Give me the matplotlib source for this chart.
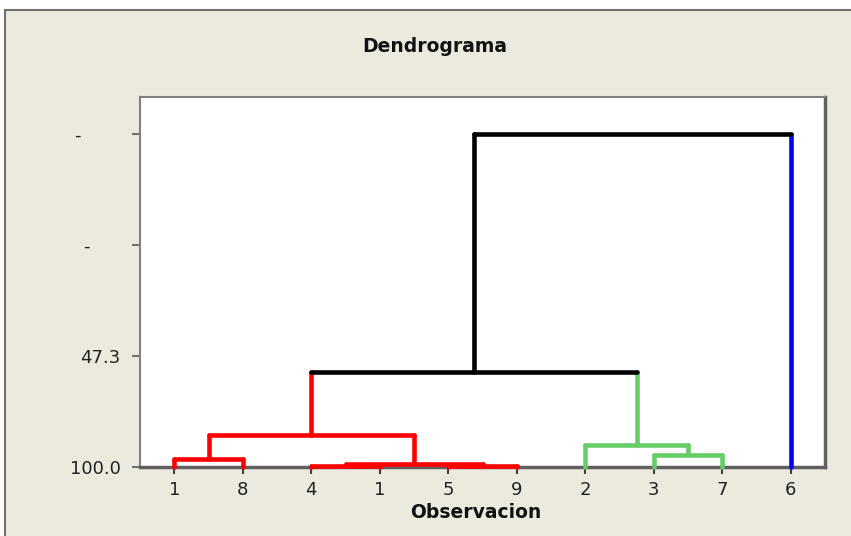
import matplotlib.pyplot as plt
from matplotlib.patches import Rectangle
from matplotlib.transforms import ScaledTranslation

# leaves in the order shown on the x axis
leaf_labels = ['1', '8', '4', '1', '5', '9', '2', '3', '7', '6']
leaf_groups = ['r', 'r', 'r', 'r', 'r', 'r', 'g', 'g', 'g', 'b']

# merges: (left node, right node, similarity level); new nodes numbered from 10
merges = [
    (0, 1, 96.1),
    (2, 3, 99.4),
    (4, 5, 99.4),
    (11, 12, 98.4),
    (10, 13, 85.0),
    (7, 8, 94.3),
    (6, 15, 89.6),
    (14, 16, 54.9),
    (17, 9, -58.1),
]
merge_groups = ['r', 'r', 'r', 'r', 'r', 'g', 'g', 'k', 'k']

y_ticks = [100.0, 47.3, -5.4, -58.1]
y_ticklabels = ['100.0', '47.3', '-', '-']

colors = {'r': '#ff0000', 'g': '#66cc66', 'b': '#0000ff', 'k': '#000000'}

fig = plt.figure(figsize=(8.51, 5.36), dpi=100)
fig.patch.set_facecolor('white')
fig.patches.append(Rectangle((5 / 851, -0.02), 1.0, 1 - 10 / 536 + 0.02,
                             transform=fig.transFigure, facecolor='#ece9df',
                             edgecolor='#707070', linewidth=1.5, zorder=-5))

ax = fig.add_axes([140 / 851, 69 / 536, 685 / 851, 370 / 536])
ax.set_facecolor('white')

xs = list(range(len(leaf_labels)))
ys = [100.0] * len(leaf_labels)
grp = list(leaf_groups)
lw = 3.3
for (a, b, s), g in zip(merges, merge_groups):
    ax.plot([xs[a], xs[a]], [ys[a], s], color=colors[grp[a]], lw=lw,
            solid_capstyle='round', clip_on=False, zorder=3)
    ax.plot([xs[b], xs[b]], [ys[b], s], color=colors[grp[b]], lw=lw,
            solid_capstyle='round', clip_on=False, zorder=3)
    ax.plot([xs[a], xs[b]], [s, s], color=colors[g], lw=lw,
            solid_capstyle='round', clip_on=False, zorder=3)
    xs.append((xs[a] + xs[b]) / 2)
    ys.append(s)
    grp.append(g)

ax.set_xlim(-0.5, 9.5)
ax.set_ylim(100, -75.7)
ax.set_xticks(range(len(leaf_labels)))
ax.set_xticklabels(leaf_labels)
ax.set_yticks(y_ticks)
ax.set_yticklabels(y_ticklabels)

for sp in ax.spines.values():
    sp.set_color('#808080')
    sp.set_linewidth(1.5)
ax.spines['right'].set_color('#606060')
ax.spines['bottom'].set_color('#606060')
ax.spines['right'].set_linewidth(2.5)
ax.spines['bottom'].set_linewidth(2.5)

ax.tick_params(axis='y', length=6, width=1.5, color='#707070', pad=8,
               labelsize=13, labelcolor='#222222')
ax.tick_params(axis='x', length=5, width=1.5, color='#404040', pad=5,
               labelsize=13, labelcolor='#222222')

# minitab pushes the truncated labels further left
shifts = [0, 0, -0.31, -0.40]
for lab, dx in zip(ax.get_yticklabels(), shifts):
    lab.set_transform(lab.get_transform() + ScaledTranslation(dx, 0, fig.dpi_scale_trans))

fig.text(435 / 851, 1 - 47 / 536, 'Dendrograma', ha='center', va='center',
         fontsize=13.5, fontweight='bold', color='#111111')
fig.text(476 / 851, 1 - 512 / 536, 'Observacion', ha='center', va='center',
         fontsize=13.5, fontweight='bold', color='#111111')

fig.savefig('out.png', dpi=100)
